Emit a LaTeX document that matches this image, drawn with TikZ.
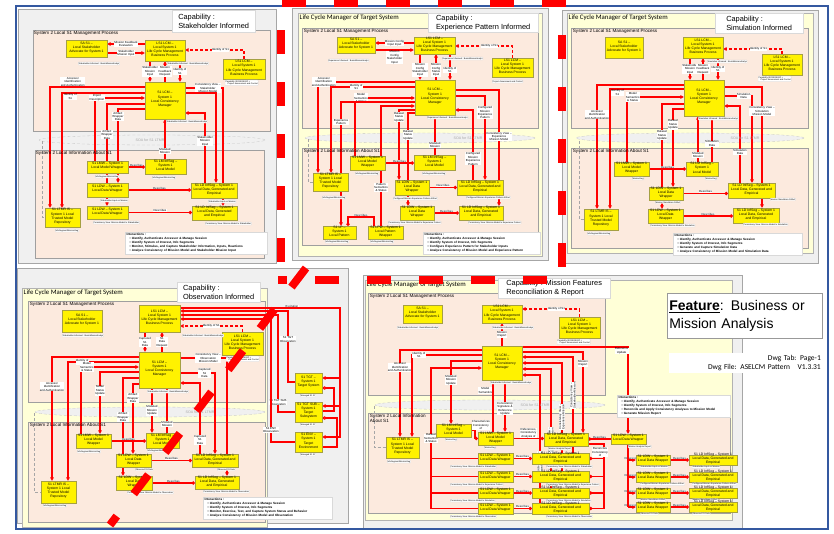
\documentclass[tikz,border=0pt]{standalone}
\usepackage{fontspec}
\setmainfont{Liberation Sans}
\newfontfamily\calib{Carlito}
\usetikzlibrary{arrows.meta,fit}
\pgfdeclarelayer{back}
\pgfdeclarelayer{mid}
\pgfsetlayers{back,mid,main}

\definecolor{peach}{RGB}{252,234,222}
\definecolor{paleyel}{RGB}{255,255,215}
\definecolor{panelgrey}{RGB}{240,240,240}
\definecolor{frameblue}{RGB}{52,88,160}

\tikzset{
  outerpanel/.style={fill=panelgrey, draw=gray!70, line width=0.6pt},
  lcmpanel/.style={fill=paleyel, draw=gray!60, line width=0.4pt},
  region/.style={fill=peach, draw=gray!75, line width=0.4pt},
  soa/.style={fill=gray!12, draw=gray!45, densely dashed, line width=0.3pt},
  soatxt/.style={inner sep=0pt, text=gray!70, font=\fontsize{3.6}{4}\selectfont},
  regtitle/.style={anchor=north west, inner sep=0.7pt, align=left, font=\fontsize{4.6}{5.2}\selectfont},
  lcmtitle/.style={anchor=north west, inner sep=0.5pt, font=\calib\fontsize{6.8}{7.5}\selectfont},
  capbox/.style={anchor=north west, fill=white, draw=gray!30, line width=0.3pt, align=left, inner sep=1.5pt, font=\fontsize{7.4}{9}\selectfont},
  ybox/.style={fill=yellow, draw=yellow!60!black, line width=0.15pt, inner sep=0pt, align=center, font=\fontsize{3.4}{4.1}\selectfont},
  tag/.style={anchor=north west, fill=white, draw=gray!35, line width=0.15pt, rounded corners=0.6pt, inner sep=0.5pt, align=left, font=\fontsize{2.1}{2.5}\selectfont},
  lbl/.style={fill=white, inner sep=0.3pt, align=center, font=\fontsize{2.9}{3.4}\selectfont},
  interbox/.style={anchor=north west, fill=white, draw=gray!30, line width=0.3pt, align=left, inner sep=1.5pt, font=\bfseries\fontsize{3.1}{4}\selectfont},
  flow/.style={draw=red, line width=1.1pt, -{Triangle[length=3.6pt,width=3.6pt]}},
  desc/.style={draw=red, line width=1.1pt, -{Circle[length=3.4pt]}},
  comp/.style={draw=red, line width=1.1pt, -{Diamond[open,length=5pt,width=3.6pt,fill=white]}},
  redline/.style={draw=red, line width=1.1pt},
  grayline/.style={draw=gray!70, densely dashed, line width=0.4pt},
  bigdash/.style={draw=red, line width=8pt, dash pattern=on 24pt off 28pt},
}

\newcommand{\ybx}[4]{\node[ybox, fit={#2 #3}] (#1) {#4};}
\newcommand{\ibul}{\hspace*{3pt}\textbullet\ }

\begin{document}
\begin{tikzpicture}[x=1pt, y=-1pt]
\useasboundingbox (0,0) rectangle (834,534);
\begin{pgfonlayer}{back}
\fill[white] (0,0) rectangle (834,534);
\end{pgfonlayer}

%% ---------- Capability: Stakeholder Informed
\begin{pgfonlayer}{back}
\draw[outerpanel] (18,9) rectangle (276,263);
\draw[region] (33,30) rectangle (270,131);
\draw[soa] (152,140) ellipse (113pt and 5pt);
\draw[region] (35,150) rectangle (264,258);
\end{pgfonlayer}
\node[regtitle] (rt1a) at (33,30) {System 2 Local S1 Management Process};
\node[regtitle] (rt1b) at (35,150) {System 2 Local Information About S1};
\node[soatxt] (soa1) at (150,140) {SOA for S1 LTMR};
\node[capbox, minimum width=83pt, minimum height=22pt] (cap1) at (172,10) {Capability :\\Stakeholder Informed};

\ybx{sa1}{(66,40)}{(107,57)}{SA S1 --\\Local Stakeholder\\Advocate for System 1}
\ybx{bp1}{(145,40)}{(185,61)}{LS1 LCM --\\Local System 1\\Life Cycle Management\\Business Process}
\ybx{rb1}{(223,59)}{(265,79)}{LS1 LCM --\\Local System 1\\Life Cycle Management\\Business Process}
\ybx{lcm1}{(145,82)}{(185,119)}{S1 LCM --\\System 1\\Local Consistency\\Manager}
\ybx{lmw1}{(87,161)}{(128,173)}{S1 LMW -- System 1\\Local Model Wrapper}
\ybx{lm1}{(145,159)}{(186,174)}{S1 LM InfSeg --\\System 1\\Local Model}
\ybx{ldwa1}{(87,183)}{(128,197)}{S1 LDW -- System 1\\Local Data Wrapper}
\ybx{ldia1}{(191,183)}{(237,198)}{S1 LD InfSeg -- System 1\\Local Data, Generated and\\Empirical}
\ybx{ldwb1}{(87,206)}{(128,219)}{S1 LDW -- System 1\\Local Data Wrapper}
\ybx{ldib1}{(192,206)}{(237,220)}{S1 LD InfSeg -- System 1\\Local Data, Generated\\and Empirical}
\ybx{ltmr1}{(45,208)}{(80,227)}{S1 LTMR IS --\\System 1 Local\\Trusted Model\\Repository}
\node[interbox, text width=139pt] (int1) at (125,232) {Interactions :\\\ibul Identify, Authenticate Accessor \& Manage Session\\\ibul Identify System of Interest, Info Segments\\\ibul Monitor, Stimulus, and Capture Stakeholder Information, Inputs, Reactions\\\ibul Analyze Consistency of Mission Model and Stakeholder Mission Input};

\node[tag] (g1a) at (78,62) {Stakeholder Informed : BusinMissionAnalys};
\node[tag] (g1b) at (167,62) {Stakeholder Informed : BusinMissionAnalys};
\node[tag] (g1c) at (225,80) {Capability ISO15288 BP =\\\quad Project Assessment and Control};
\node[tag] (g1d) at (166,120) {Stakeholder Informed : BusinMissionAnalys};
\node[tag] (g1e) at (95,175) {InfoSegmentMissionSeg};
\node[tag] (g1f) at (152,176) {InfoSegmentMissionSeg};
\node[tag] (g1g) at (100,199) {Stakeholder Input on Mission};
\node[tag] (g1h) at (208,200) {Stakeholder Input on Mission};
\node[tag] (g1i) at (93,221) {Consistency View: Mission Model to Stakeholder};
\node[tag] (g1j) at (205,222) {Consistency View: Mission Model to Stakeholder};
\node[tag] (g1k) at (55,229) {InfoSegmentMissionSeg};

\begin{pgfonlayer}{mid}
\draw[flow] (bp1.west |- 0,44) -- node[lbl]{Mission Feedback\\Evaluation} (sa1.east |- 0,44);
\draw[flow] (sa1.east |- 0,53) -- node[lbl]{Stakeholder\\Mission Input} (bp1.west |- 0,53);
\draw[flow, densely dashed] (rb1.north) |- node[lbl, pos=0.7]{Identity of S1} (bp1.east |- 0,50);
\draw[flow] (150,0 |- bp1.south) -- node[lbl]{Stakeholder\\Mission\\Input} (150,0 |- lcm1.north);
\draw[flow] (165,0 |- lcm1.north) -- node[lbl]{Mission\\Feedback\\Request} (165,0 |- bp1.south);
\draw[flow] (180,0 |- bp1.south) -- node[lbl]{Identity of\\S1} (180,0 |- lcm1.north);
\draw[flow] (lcm1.west |- 0,87) -| node[lbl, pos=0.38, above]{Accessor\\Identification\\and Authentication} (50,0 |- ltmr1.north);
\draw[flow] (lcm1.west |- 0,93) -| node[lbl, pos=0.45, below]{Identity of\\S1} (62,0 |- ltmr1.north);
\draw[flow] (95,0 |- lmw1.north) |- node[lbl, pos=0.52]{Import\\Description} (lcm1.west |- 0,98);
\draw[flow] (lcm1.west |- 0,104) -| node[lbl, pos=0.65]{Artifact\\Wrapper\\Data} (107,0 |- ldwb1.north);
\draw[flow] (lcm1.west |- 0,109) -| node[lbl, pos=0.55]{Artifact\\Wrapper\\Data} (118,0 |- ldwa1.north);
\draw[flow] (165,0 |- lm1.north) -- node[lbl, pos=0.2]{Modeled\\Mission} (165,0 |- lcm1.south);
\draw[desc] (lmw1.east) -- node[lbl, above]{Describes} (lmw1.east -| lm1.west);
\draw[desc] (ldwa1.east) -- node[lbl, above]{Describes} (ldwa1.east -| ldia1.west);
\draw[desc] (ldwb1.east) -- node[lbl, above]{Describes} (ldwb1.east -| ldib1.west);
\draw[flow] (lcm1.east |- 0,88) -| node[lbl, pos=0.3]{Consistency View --\\Stakeholder\\Mission Model} (223,0 |- ldib1.north);
\draw[flow] (lcm1.east |- 0,93) -| (216,0 |- ldia1.north);
\draw[flow] (205,0 |- ldia1.north) |- node[lbl, pos=0.3]{Stakeholder\\Mission\\Input} (lcm1.east |- 0,113);
\draw[grayline] (42,141) |- (ltmr1.west);
\end{pgfonlayer}

%% ---------- Capability: Experience Pattern Informed
\begin{pgfonlayer}{back}
\draw[outerpanel] (292,8) rectangle (548,260);
\draw[lcmpanel] (298,13) rectangle (542,256);
\draw[region] (302,28) rectangle (538,128);
\draw[soa] (420,138) ellipse (115pt and 5pt);
\draw[region] (302,148) rectangle (538,245);
\end{pgfonlayer}
\node[lcmtitle] (lt2) at (299,14) {Life Cycle Manager of Target System};
\node[regtitle] (rt2a) at (303,28) {System 2 Local S1 Management Process};
\node[regtitle] (rt2b) at (303,148) {System 2 Local Information About S1};
\node[soatxt] (soa2) at (468,138) {SOA for S1 LTMR};
\node[capbox, minimum width=110pt, minimum height=19pt] (cap2) at (428,13) {Capability :\\Experience Pattern Informed};

\ybx{sa2}{(337,37)}{(375,53)}{SA S1 --\\Local Stakeholder\\Advocate for System 1}
\ybx{bp2}{(414,37)}{(455,54)}{LS1 LCM --\\Local System 1\\Life Cycle Management\\Business Process}
\ybx{rb2}{(492,58)}{(533,77)}{LS1 LCM --\\Local System 1\\Life Cycle Management\\Business Process}
\ybx{lcm2}{(415,80)}{(455,115)}{S1 LCM --\\System 1\\Local Consistency\\Manager}
\ybx{ltmr2}{(313,173)}{(348,191)}{S1 LTMR IS --\\System 1 Local\\Trusted Model\\Repository}
\ybx{lmw2}{(350,156)}{(385,170)}{S1 LMW -- System 1\\Local Model\\Wrapper}
\ybx{lm2}{(414,155)}{(455,170)}{S1 LM InfSeg --\\System 1\\Local Model}
\ybx{ldwa2}{(395,180)}{(429,195)}{S1 LDW -- System 1\\Local Data\\Wrapper}
\ybx{ldia2}{(457,180)}{(503,195)}{S1 LD InfSeg -- System 1\\Local Data, Generated and\\Empirical}
\ybx{ldwb2}{(400,206)}{(434,220)}{S1 LDW -- System 1\\Local Data\\Wrapper}
\ybx{ldib2}{(459,206)}{(503,220)}{S1 LD InfSeg -- System 1\\Local Data, Generated\\and Empirical}
\ybx{lp2}{(323,226)}{(356,239)}{S1 LP --\\System 1\\Local Pattern}
\ybx{lpw2}{(368,226)}{(403,239)}{S1 LPW -- System 1\\Local Pattern\\Wrapper}
\node[interbox, text width=114pt] (int2) at (423,232) {Interactions :\\\ibul Identify, Authenticate Accessor \& Manage Session\\\ibul Identify System of Interest, Info Segments\\\ibul Configure Experience Pattern for Stakeholder Inputs\\\ibul Analyze Consistency of Mission Model and Experience Pattern};

\node[tag] (g2a) at (328,59) {Experience Informed : BusinMissionAnalys};
\node[tag] (g2b) at (442,57) {Experience Informed : BusinMissionAnalys};
\node[tag] (g2c) at (492,80) {Project Assessment and Control};
\node[tag] (g2d) at (427,116) {Experience Informed : BusinMissionAnalys};
\node[tag] (g2e) at (355,172) {InfoSegmentMissionSeg};
\node[tag] (g2f) at (422,172) {InfoSegmentMissionSeg};
\node[tag] (g2g) at (322,196) {InfoSegmentMissionSeg};
\node[tag] (g2h) at (393,197) {Configured Mission Experience Pattern Artifact};
\node[tag] (g2i) at (466,196) {Configured Mission Experience Pattern Artifact};
\node[tag] (g2j) at (388,221) {Consistency View: Mission Model to Experience Pattern};
\node[tag] (g2k) at (468,221) {Consistency View: Mission Model to Experience Pattern};
\node[tag] (g2l) at (325,240) {InfoSegmentMissionSeg};
\node[tag] (g2m) at (370,240) {InfoSegmentMissionSeg};

\begin{pgfonlayer}{mid}
\draw[flow] (bp2.west |- 0,43) -- node[lbl]{Mission Config\\Input Input} (sa2.east |- 0,43);
\draw[flow] (sa2.east |- 0,50) -- node[lbl, below]{Mission\\Config\\Stakeholder\\Input} (bp2.west |- 0,50);
\draw[flow, densely dashed] (rb2.north) |- node[lbl, pos=0.7]{Identity of S1} (bp2.east |- 0,46);
\draw[flow] (420,0 |- bp2.south) -- node[lbl, pos=0.62]{Mission\\Config\\Stakeholder\\Input} (420,0 |- lcm2.north);
\draw[flow] (436,0 |- lcm2.north) -- node[lbl, pos=0.38]{Mission\\Config\\Status\\Input} (436,0 |- bp2.south);
\draw[flow] (450,0 |- bp2.south) -- node[lbl, pos=0.62]{Identity of\\S1} (450,0 |- lcm2.north);
\draw[flow] (lcm2.west |- 0,82) -| node[lbl, pos=0.47]{Accessor\\Identification\\and Authentication} (318,0 |- ltmr2.north);
\draw[flow] (lcm2.west |- 0,87) -| node[lbl, pos=0.35]{Identity of\\S1} (331,0 |- ltmr2.north);
\draw[flow] (355,0 |- lmw2.north) |- node[lbl, pos=0.55]{Model\\Semantics\\\& Status} (lcm2.west |- 0,98);
\draw[flow] (lcm2.west |- 0,102) -| node[lbl, pos=0.58]{Experience\\Pattern} (341,0 |- lp2.north);
\draw[flow] (381,0 |- lpw2.north) |- node[lbl, pos=0.16]{Pattern\\Semantics\\\& Status} (lcm2.west |- 0,106);
\draw[flow] (lcm2.west |- 0,110) -| node[lbl, pos=0.55]{Dataset\\Status\\Update} (399,0 |- ldwa2.north);
\draw[flow] (lcm2.west |- 0,113) -| node[lbl, pos=0.62]{Dataset\\Status\\Update} (408,0 |- ldwb2.north);
\draw[flow] (435,0 |- lm2.north) -- node[lbl, pos=0.25]{Modeled\\Mission} (435,0 |- lcm2.south);
\draw[flow] (lcm2.east |- 0,90) -| node[lbl, pos=0.7]{Consistency View --\\Experience\\Mission Model} (499,0 |- ldib2.north);
\draw[flow] (lcm2.east |- 0,96) -| node[lbl, pos=0.6]{Configured\\Mission\\Experience\\Pattern} (485,0 |- ldia2.north);
\draw[flow] (473,0 |- ldia2.north) |- node[lbl, pos=0.15]{Configured\\Mission\\Experience\\Pattern} (lcm2.east |- 0,110);
\draw[desc] (lmw2.east) -- node[lbl, above]{Describes} (lmw2.east -| lm2.west);
\draw[desc] (ldwa2.east) -- node[lbl, above]{Describes} (ldwa2.east -| ldia2.west);
\draw[desc] (ldwb2.east) -- node[lbl, above]{Describes} (ldwb2.east -| ldib2.west);
\draw[desc] (374,0 |- lpw2.north) |- node[lbl, pos=0.75, above]{Describes} (348,217) -- (348,0 |- lp2.north);
\draw[grayline] (308,139) |- (ltmr2.west);
\end{pgfonlayer}

%% ---------- Capability: Simulation Informed
\begin{pgfonlayer}{back}
\draw[outerpanel] (562,10) rectangle (818,263);
\draw[lcmpanel] (567,13) rectangle (813,253);
\draw[region] (571,28) rectangle (808,128);
\draw[soa] (690,138) ellipse (114pt and 5pt);
\draw[region] (571,148) rectangle (808,248);
\end{pgfonlayer}
\node[lcmtitle] (lt3) at (568,14) {Life Cycle Manager of Target System};
\node[regtitle] (rt3a) at (572,28) {System 2 Local S1 Management Process};
\node[regtitle] (rt3b) at (572,148) {System 2 Local Information About S1};
\node[soatxt] (soa3) at (745,138) {SOA for S1 LTMR};
\node[capbox, minimum width=88pt, minimum height=20pt] (cap3) at (715,13) {Capability :\\Simulation Informed};

\ybx{sa3}{(605,37)}{(643,58)}{SA S1 --\\Local Stakeholder\\Advocate for System 1}
\ybx{bp3}{(683,37)}{(723,58)}{LS1 LCM --\\Local System 1\\Life Cycle Management\\Business Process}
\ybx{rb3}{(762,54)}{(802,75)}{LS1 LCM --\\Local System 1\\Life Cycle Management\\Business Process}
\ybx{lcm3}{(684,80)}{(724,116)}{S1 LCM --\\System 1\\Local Consistency\\Manager}
\ybx{lmw3}{(614,162)}{(649,176)}{S1 LMW -- System 1\\Local Model\\Wrapper}
\ybx{lm3}{(686,162)}{(718,176)}{S1 LM InfSeg --\\System 1\\Local Model}
\ybx{ldwa3}{(649,187)}{(683,200)}{S1 LDW -- System 1\\Local Data\\Wrapper}
\ybx{ldia3}{(728,183)}{(775,198)}{S1 LD InfSeg -- System 1\\Local Data, Generated and\\Empirical}
\ybx{ldwb3}{(648,209)}{(683,223)}{S1 LDW -- System 1\\Local Data\\Wrapper}
\ybx{ldib3}{(733,208)}{(779,223)}{S1 LD InfSeg -- System 1\\Local Data, Generated\\and Empirical}
\ybx{ltmr3}{(584,209)}{(618,230)}{S1 LTMR IS --\\System 1 Local\\Trusted Model\\Repository}
\node[interbox, text width=126pt] (int3) at (673,233) {Interactions :\\\ibul Identify, Authenticate Accessor \& Manage Session\\\ibul Identify System of Interest, Info Segments\\\ibul Generate and Capture Simulation Data\\\ibul Analyze Consistency of Mission Model and Simulation Data};

\node[tag] (g3a) at (707,60) {Simulation Informed : BusinMissionAnalys};
\node[tag] (g3b) at (758,76) {Capability ISO15288 BP =\\\quad Project Assessment and Control};
\node[tag] (g3c) at (698,117) {Simulation Informed : BusinMissionAnalys};
\node[tag] (g3d) at (632,177) {MissionSeg};
\node[tag] (g3e) at (705,177) {MissionSeg};
\node[tag] (g3f) at (655,201) {Mission Simulation Artifact};
\node[tag] (g3g) at (770,198) {Mission Simulation Artifact};
\node[tag] (g3h) at (650,224) {Consistency View: Mission Model to Simulation};
\node[tag] (g3i) at (743,223) {Consistency View: Mission Model to Simulation};
\node[tag] (g3j) at (587,232) {InfoSegmentMissionSeg};

\begin{pgfonlayer}{mid}
\draw[flow, densely dashed] (rb3.north) |- node[lbl, pos=0.7]{Identity of S1} (bp3.east |- 0,49);
\draw[flow] (690,0 |- bp3.south) -- node[lbl]{Stakeholder\\Mission\\Input} (690,0 |- lcm3.north);
\draw[flow] (703,0 |- lcm3.north) -- node[lbl]{Mission\\Feedback\\Request} (703,0 |- bp3.south);
\draw[flow] (718,0 |- bp3.south) -- node[lbl]{Identity of\\S1} (718,0 |- lcm3.north);
\draw[flow] (lcm3.west |- 0,85) -| node[lbl, pos=0.62]{Accessor\\Identification\\and Authentication} (597,0 |- ltmr3.north);
\draw[flow] (lcm3.west |- 0,89) -| node[lbl, pos=0.45, below]{Identity of\\S1} (610,0 |- ltmr3.north);
\draw[flow] (627,0 |- lmw3.north) |- node[lbl, pos=0.55]{Model\\Semantics\\\& Status} (lcm3.west |- 0,97);
\draw[flow] (lcm3.west |- 0,104) -| node[lbl, pos=0.65]{Dataset\\Status\\Update} (662,0 |- ldwb3.north);
\draw[flow] (lcm3.west |- 0,109) -| node[lbl, pos=0.6]{Dataset\\Status\\Update} (673,0 |- ldwa3.north);
\draw[flow] (698,0 |- lm3.north) -- node[lbl, pos=0.15]{Modeled\\Mission} (698,0 |- lcm3.south);
\draw[flow] (712,0 |- lm3.north) -- node[lbl, pos=0.4]{Simulation\\Data} (712,0 |- lcm3.south);
\draw[flow] (740,0 |- ldia3.north) |- node[lbl, pos=0.2]{Simulation\\Data} (lcm3.east |- 0,106);
\draw[flow] (lcm3.east |- 0,96) -| node[lbl, pos=0.35]{Simulation\\Data} (752,0 |- ldia3.north);
\draw[flow] (lcm3.east |- 0,87) -| node[lbl, pos=0.6]{Consistency View --\\Simulation\\Mission Model} (762,0 |- ldib3.north);
\draw[desc] (lmw3.east) -- node[lbl, above]{Describes} (lmw3.east -| lm3.west);
\draw[desc] (ldwa3.east) -- node[lbl, above]{Describes} (ldwa3.east -| ldia3.west);
\draw[desc] (ldwb3.east) -- node[lbl, above]{Describes} (ldwb3.east -| ldib3.west);
\draw[grayline] (579,141) |- (ltmr3.west);
\end{pgfonlayer}

%% ---------- Capability: Observation Informed
\begin{pgfonlayer}{back}
\draw[outerpanel] (17,268) rectangle (348,523);
\draw[lcmpanel] (22,288) rectangle (267,527);
\draw[region] (28,301) rectangle (265,402);
\draw[soa] (150,412) ellipse (115pt and 5pt);
\draw[region] (28,422) rectangle (265,522);
\end{pgfonlayer}
\node[lcmtitle] (lt4) at (23,289) {Life Cycle Manager of Target System};
\node[regtitle] (rt4a) at (29,301) {System 2 Local S1 Management Process};
\node[regtitle] (rt4b) at (29,422) {System 2 Local Information About S1};
\node[soatxt] (soa4) at (200,412) {SOA for S1 LTMR};
\node[capbox, minimum width=83pt, minimum height=20pt] (cap4) at (177,282) {Capability :\\Observation Informed};

\ybx{sa4}{(62,310)}{(102,332)}{SA S1 --\\Local Stakeholder\\Advocate for System 1}
\ybx{bp4}{(139,305)}{(180,332)}{LS1 LCM --\\Local System 1\\Life Cycle Management\\Business Process}
\ybx{rb4}{(222,332)}{(263,355)}{LS1 LCM --\\Local System 1\\Life Cycle Management\\Business Process}
\ybx{lcm4}{(139,352)}{(180,388)}{S1 LCM --\\System 1\\Local Consistency\\Manager}
\ybx{lmw4}{(76,434)}{(111,448)}{S1 LMW -- System 1\\Local Model\\Wrapper}
\ybx{lm4}{(146,433)}{(179,448)}{S1 LM InfSeg --\\System 1\\Local Model}
\ybx{ldwa4}{(116,454)}{(151,467)}{S1 LDW -- System 1\\Local Data\\Wrapper}
\ybx{ldia4}{(192,454)}{(238,467)}{S1 LD InfSeg -- System 1\\Local Data, Generated and\\Empirical}
\ybx{ldwb4}{(116,476)}{(152,490)}{S1 LDW -- System 1\\Local Data\\Wrapper}
\ybx{ldib4}{(195,476)}{(239,489)}{S1 LD InfSeg -- System 1\\Local Data, Generated\\and Empirical}
\ybx{ltmr4}{(41,481)}{(76,503)}{S1 LTMR IS --\\System 1 Local\\Trusted Model\\Repository}
\ybx{tgt4}{(295,373)}{(322,393)}{S1 TGT --\\System 1\\Target System}
\ybx{sub4}{(295,402)}{(322,422)}{S1 TGT SUB --\\System 1\\Target\\Subsystem}
\ybx{env4}{(295,432)}{(322,452)}{S1 ENV --\\System 1\\Target\\Environment}
\node[interbox, text width=126pt] (int4) at (203,497) {Interactions :\\\ibul Identify, Authenticate Accessor \& Manage Session\\\ibul Identify System of Interest, Info Segments\\\ibul Monitor, Exercise, Test, and Capture System Status and Behavior\\\ibul Analyze Consistency of Mission Model and Observation};

\node[tag] (g4a) at (62,334) {Stakeholder Informed : BusinMissionAnalys};
\node[tag] (g4b) at (182,334) {Stakeholder Informed : BusinMissionAnalys};
\node[tag] (g4c) at (226,356) {Capability ISO15288 BP =\\\quad Project Assessment and Control};
\node[tag] (g4d) at (147,390) {Stakeholder Informed : BusinMissionAnalys};
\node[tag] (g4e) at (77,450) {InfoSegmentMissionSeg};
\node[tag] (g4f) at (147,449) {InfoSegmentMissionSeg :};
\node[tag] (g4g) at (135,468) {Observed S1 Data};
\node[tag] (g4h) at (217,468) {Observed S1 Data};
\node[tag] (g4i) at (127,491) {Consistency View: Mission Model to Observation};
\node[tag] (g4j) at (203,490) {Consistency View: Mission Model to Observation};
\node[tag] (g4k) at (43,504) {InfoSegmentMissionSeg};
\node[tag] (g4l) at (300,394) {Managed S1 ID};
\node[tag] (g4m) at (300,423) {Managed S1 ID};
\node[tag] (g4n) at (300,453) {Managed S1 ID};
\coordinate (exc4) at (340,378);

\begin{pgfonlayer}{mid}
\draw[flow, densely dashed] (rb4.north) |- node[lbl, pos=0.75]{Identity of S1} (bp4.east |- 0,326);
\draw[flow] (145,0 |- bp4.south) -- node[lbl]{Captured\\S1\\Data} (145,0 |- lcm4.north);
\draw[flow] (162,0 |- lcm4.north) -- node[lbl]{S1\\Data\\Request} (162,0 |- bp4.south);
\draw[flow] (lcm4.west |- 0,357) -| node[lbl, pos=0.62]{Accessor\\Identification\\and Authentication} (52,0 |- ltmr4.north);
\draw[flow] (lcm4.west |- 0,362) -| node[lbl, pos=0.4]{Identity of\\S1} (68,0 |- ltmr4.north);
\draw[flow] (81,0 |- lmw4.north) |- node[lbl, pos=0.55]{Model\\Semantics\\\& Status} (lcm4.west |- 0,367);
\draw[flow] (lcm4.west |- 0,372) -| node[lbl, pos=0.65]{Model\\Status\\Update} (100,0 |- lmw4.north);
\draw[flow] (lcm4.west |- 0,378) -| node[lbl, pos=0.7]{Artifact\\Wrapper\\Data} (123,0 |- ldwb4.north);
\draw[flow] (lcm4.west |- 0,384) -| node[lbl, pos=0.6]{Artifact\\Wrapper\\Data} (133,0 |- ldwa4.north);
\draw[flow] (152,0 |- lcm4.south) -- node[lbl]{Modeled\\Mission\\Update} (152,0 |- lm4.north);
\draw[flow] (167,0 |- lm4.north) -- node[lbl, pos=0.2]{Modeled\\Mission} (167,0 |- lcm4.south);
\draw[flow] (lcm4.east |- 0,358) -| node[lbl, pos=0.3]{Consistency View --\\Observation\\Mission Model} (227,0 |- ldib4.north);
\draw[flow] (lcm4.east |- 0,373) -| node[lbl, pos=0.35]{Captured\\S1\\Data} (215,0 |- ldia4.north);
\draw[flow] (200,0 |- ldia4.north) |- node[lbl, pos=0.1]{Captured\\S1\\Data} (lcm4.east |- 0,383);
\draw[desc] (lmw4.east) -- node[lbl, above]{Describes} (lmw4.east -| lm4.west);
\draw[desc] (ldwa4.east) -- node[lbl, above]{Describes} (ldwa4.east -| ldia4.west);
\draw[desc] (ldwb4.east) -- node[lbl, above]{Describes} (ldwb4.east -| ldib4.west);
\draw[grayline] (34,413) |- (ltmr4.west);
% target system side
\draw[flow] (bp4.east |- 0,308) -| node[lbl, pos=0.35, above]{Excitation} (exc4) -- (tgt4.east |- exc4);
\draw[flow] (exc4) |- (sub4.east |- 0,406);
\draw[flow] (exc4) |- (env4.east |- 0,437);
\draw[comp] (sub4.east |- 0,411) -| (334,388) -- (tgt4.east |- 0,388);
\draw[comp] (env4.east |- 0,447) -| (337,418) -- (sub4.east |- 0,418);
\draw[flow] (tgt4.west |- 0,382) -| node[lbl, pos=0.8]{S1 TGT\\Observation} (288,311) -- (bp4.east |- 0,311);
\draw[flow] (sub4.west |- 0,412) -| node[lbl, pos=0.55]{S1 TGT SUB\\Observation} (278,315) -- (bp4.east |- 0,315);
\draw[flow] (env4.west |- 0,442) -| node[lbl, pos=0.55]{S1 ENV\\Observation} (271,319) -- (bp4.east |- 0,319);
\end{pgfonlayer}

%% ---------- Capability: Mission Features Reconciliation & Report
\begin{pgfonlayer}{back}
\draw[outerpanel] (363,275) rectangle (742,528);
\draw[lcmpanel] (365,280) rectangle (732,520);
\draw[region] (368,293) rectangle (605,395);
\draw[soa] (490,405) ellipse (115pt and 5pt);
\draw[region] (368,413) rectangle (730,513);
\end{pgfonlayer}
\node[lcmtitle] (lt5) at (366,281) {Life Cycle Manager of Target System};
\node[regtitle] (rt5a) at (369,293) {System 2 Local S1 Management Process};
\node[regtitle] (rt5b) at (369,413) {System 2 Local Information\\About S1};
\node[soatxt] (soa5) at (535,405) {SOA for S1 LTMR};
\node[capbox, minimum width=112pt, minimum height=20pt] (cap5) at (498,278) {Capability : Mission Features\\Reconciliation \& Report};

\ybx{sa5}{(403,305)}{(442,323)}{SA S1 --\\Local Stakeholder\\Advocate for System 1}
\ybx{bp5}{(482,305)}{(522,323)}{LS1 LCM --\\Local System 1\\Life Cycle Management\\Business Process}
\ybx{rb5}{(559,317)}{(600,338)}{LS1 LCM --\\Local System 1\\Life Cycle Management\\Business Process}
\ybx{lcm5}{(482,346)}{(522,380)}{S1 LCM --\\System 1\\Local Consistency\\Manager}
\ybx{ltmr5}{(386,437)}{(419,458)}{S1 LTMR IS --\\System 1 Local\\Trusted Model\\Repository}
\ybx{lm5}{(436,424)}{(471,437)}{S1 LM InfSeg --\\System 1\\Local Model}
\ybx{lmw5}{(478,432)}{(513,445)}{S1 LMW -- System 1\\Local Model\\Wrapper}
\ybx{ldt5}{(544,433)}{(588,446)}{S1 LD InfSeg -- System 1\\Local Data, Generated\\and Empirical}
\ybx{ldwt5}{(611,434)}{(646,444)}{S1 LDW -- System 1\\Local Data Wrapper}
\foreach \r/\ya/\yb/\cv in {a/453/464/Stakeholder, b/471/482/Experience Pattern, c/488/498/Simulation, d/503/514/Observation} {
  \ybx{ldw\r5}{(478,\ya)}{(513,\yb)}{S1 LDW -- System 1\\Local Data Wrapper}
  \ybx{ldi\r5}{(532,\ya)}{(589,\yb)}{S1 LD InfSeg -- System 1\\Local Data, Generated and\\Empirical}
  \node[tag] (gl\r5) at (450,\yb+1) {Consistency View: Mission Model to \cv};
  \node[tag] (gm\r5) at (546,\yb+1) {Consistency View: Mission Model to \cv};
}
\foreach \r/\ya/\yb/\tx in {a/455/465/Stakeholder Input on Mission, b/472/482/Configured Mission Experience Pattern Artifact, c/488/498/Mission Simulation Artifact, d/502/512/Observed S1 Data} {
  \ybx{rldw\r5}{(636,\ya)}{(670,\yb)}{S1 LDW -- System 1\\Local Data Wrapper}
  \ybx{rldi\r5}{(689,\ya)}{(737,\yb)}{S1 LD InfSeg -- System 1\\Local Data, Generated and\\Empirical}
  \node[tag] (gr\r5) at (640,\yb+0.5) {\tx};
  \node[tag] (gs\r5) at (692,\yb+0.5) {\tx};
}
\node[interbox, text width=110pt] (int5) at (617,395) {Interactions :\\\ibul Identify, Authenticate Accessor \& Manage Session\\\ibul Identify System of Interest, Info Segments\\\ibul Reconcile and Apply Consistency Analyses to Mission Model\\\ibul Generate Mission Report};

\node[tag] (g5a) at (397,326) {Stakeholder Informed : BusinMissionAnalys};
\node[tag] (g5b) at (492,326) {Stakeholder Informed : BusinMissionAnalys};
\node[tag] (g5c) at (557,339) {Capability ISO15288 BP =\\\quad Project Assessment and Control};
\node[tag] (g5d) at (490,381) {Stakeholder Informed : BusinMissionAnalys};
\node[tag] (g5e) at (445,438) {MissionSeg};
\node[tag] (g5f) at (484,446) {MissionSeg};
\node[tag] (g5g) at (548,447) {Mission Analysis Report};
\node[tag] (g5h) at (628,445) {Mission Analysis Report};
\node[tag] (g5i) at (387,460) {InfoSegmentMissionSeg};
\node[lbl] (rec5) at (600,452) {Reconciles\\Consistency\\of};

\begin{pgfonlayer}{mid}
\draw[flow, densely dashed] (rb5.north) |- node[lbl, pos=0.7]{Identity of S1} (bp5.east |- 0,309);
\draw[flow] (lcm5.north) -- node[lbl]{Mission\\Report} (bp5.south);
\draw[flow] (lcm5.west |- 0,350) -| node[lbl, pos=0.6]{Accessor\\Identification\\and Authentication} (400,0 |- ltmr5.north);
\draw[flow] (lcm5.west |- 0,355) -| node[lbl, pos=0.45]{Identity of\\S1} (412,0 |- ltmr5.north);
\draw[flow] (lcm5.west |- 0,361) -| node[lbl, pos=0.65]{Modeled\\Mission\\Update} (451,0 |- lm5.north);
\draw[flow] (ldwd5.west) -| node[lbl, pos=0.75]{Dataset\\Semantics\\\& Status} (431,368) -- (lcm5.west |- 0,368);
\foreach \r in {a,b,c} { \draw[redline] (ldw\r5.west) -- (431,0 |- ldw\r5.west); }
\draw[flow] (493,0 |- lmw5.north) -- node[lbl, pos=0.8, left]{Model\\Semantics} (493,0 |- lcm5.south);
\draw[flow] (505,0 |- lcm5.south) -- node[lbl, pos=0.55]{Consistency\\Signature \&\\Reference\\Update} (505,0 |- lmw5.north);
\draw[desc] (lm5.east) -| node[lbl, pos=0, anchor=south west]{Characterizes\\Consistency\\of} (475,0 |- lmw5.west) -- (lmw5.west);
\draw[desc] (lmw5.east) -- node[lbl, above]{References,\\Consistency\\Analysis of} (lmw5.east -| ldt5.west);
\draw[desc] (ldwt5.west) -- node[lbl, above]{Describes} (ldwt5.west -| ldt5.east);
\draw[flow] (lcm5.east |- 0,347) -| node[lbl, pos=0.47, below]{Reference\\Update} (628,0 |- ldwt5.north);
\draw[flow] (lcm5.east |- 0,352) -| node[lbl, pos=0.57]{Mission\\Report} (583,0 |- ldt5.north);
\draw[flow] (573,0 |- ldia5.north) |- node[lbl, pos=0.3, rotate=90]{Consistency View --\\Stakeholder Mission} (lcm5.east |- 0,357);
\draw[flow] (562,0 |- ldib5.north) |- node[lbl, pos=0.25, rotate=90]{Consistency View --\\Experience Mission} (lcm5.east |- 0,363);
\draw[flow] (551,0 |- ldic5.north) |- node[lbl, pos=0.2, rotate=90]{Consistency View --\\Simulation Mission} (lcm5.east |- 0,369);
\draw[flow] (540,0 |- ldid5.north) |- node[lbl, pos=0.15, rotate=90]{Consistency View --\\Observation Mission} (lcm5.east |- 0,375);
\foreach \r in {a,b,c,d} {
  \draw[desc] (ldw\r5.east) -- node[lbl, above]{Describes} (ldw\r5.east -| ldi\r5.west);
  \draw[desc] (604,0 |- ldi\r5.east) -- (ldi\r5.east);
  \draw[flow] (628,0 |- rldw\r5.west) -- node[lbl, above]{References} (rldw\r5.west);
  \draw[desc] (rldw\r5.east) -- node[lbl, above]{Describes} (rldw\r5.east -| rldi\r5.west);
}
\draw[redline] (ldt5.east |- 0,444) -| (604,0 |- ldid5.east);
\draw[redline] (628,0 |- ldwt5.south) -- (628,0 |- rldwd5.west);
\draw[grayline] (374,406) |- (ltmr5.west);
\end{pgfonlayer}

%% ---------- feature title and drawing info
\node[anchor=north west, fill=white, draw=gray!80, line width=0.6pt, text width=151pt, minimum height=45pt, inner sep=2pt, align=left, font=\fontsize{14}{18}\selectfont] (feat) at (667,293) {\underline{\textbf{Feature}}: Business or\\Mission Analysis};
\node[anchor=north east, fill=white, text width=150pt, inner sep=2pt, align=right, font=\calib\fontsize{7.5}{9}\selectfont] (dwg) at (823,353) {Dwg Tab: Page-1\\Dwg File: ASELCM Pattern\quad V1.3.31};

\draw[frameblue, line width=1.3pt] (16,6) rectangle (828,529);

% big red dashed outline
\draw[bigdash] (281,262) -- (281,3) -- (562,3) -- (562,280) -- (278,280);
\draw[bigdash] (306,268) -- (110,525);
\end{tikzpicture}
\end{document}
